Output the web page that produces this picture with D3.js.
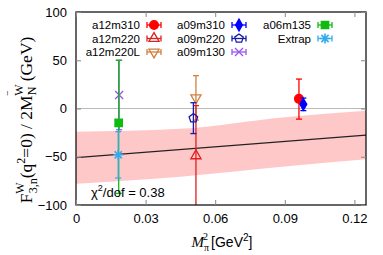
<!DOCTYPE html>
<html>
<head>
<meta charset="utf-8">
<script src="https://cdn.jsdelivr.net/npm/d3@7"></script>
<style>
  body { margin: 0; background: #fff; }
</style>
</head>
<body>
<svg id="chart" width="383" height="255" font-family="Liberation Sans, Arial, sans-serif"></svg>
<script>
// data
const ensembles = ["a12m310", "a12m220", "a12m220L", "a09m310", "a09m220", "a09m130", "a06m135", "Extrap"];
const mpiSq = [0.0961, 0.0517, 0.0517, 0.098, 0.0506, 0.0186, 0.0184, 0.0182];
const values = [10, -49, 11, 4.3, -10, 14, -15, -48];
const errLow = [21, 55, 23, 6.5, 16, 36, 73, 24];
const errHigh = [20.5, 52, 23, 6.5, 16, 36, 65, 24];
const colors = ["#ff0000", "#dd2020", "#d08040", "#0000ff", "#1a1aaa", "#9955ee", "#10bb10", "#33aaee"];
const shapes = ["circle", "triangleOpen", "triangleDownOpen", "diamond", "pentagonOpen", "cross", "square", "asterisk"];

// fit band
const bandX = [0, 0.045, 0.09, 0.125];
const bandLow = [-78, -70.6, -60, -52.6];
const bandHigh = [-24, -21, -9, -2.3];
const fitX = [0, 0.125];
const fitY = [-51, -27.5];

const xTicks = [0, 0.03, 0.06, 0.09, 0.12];
const yTicks = [-100, -50, 0, 50, 100];

const margin = { top: 12, right: 17, bottom: 50, left: 76 };
const W = 383, H = 255;
const PW = W - margin.left - margin.right;
const PH = H - margin.top - margin.bottom;
const SERIF = "Liberation Serif, 'Times New Roman', serif";

const svg = d3.select("#chart");
const g = svg.append("g").attr("transform", `translate(${margin.left},${margin.top})`);

const x = d3.scaleLinear().domain([0, 0.125]).range([0, PW]);
const y = d3.scaleLinear().domain([-100, 100]).range([PH, 0]);

// clip
svg.append("defs").append("clipPath").attr("id", "clip")
  .append("rect").attr("width", PW).attr("height", PH);
const plot = g.append("g").attr("clip-path", "url(#clip)");

// zero line
plot.append("line")
  .attr("x1", 0).attr("x2", PW).attr("y1", y(0)).attr("y2", y(0))
  .attr("stroke", "#bbbbbb").attr("stroke-width", 1.2);

// band
const area = d3.area()
  .x((d, i) => x(bandX[i]))
  .y0((d, i) => y(bandLow[i]))
  .y1((d, i) => y(bandHigh[i]))
  .curve(d3.curveMonotoneX);
plot.append("path").datum(bandX).attr("d", area).attr("fill", "#ffc8c8");

// fit line
plot.append("line")
  .attr("x1", x(fitX[0])).attr("x2", x(fitX[1]))
  .attr("y1", y(fitY[0])).attr("y2", y(fitY[1]))
  .attr("stroke", "#222").attr("stroke-width", 1.2);

// symbol paths
const symbolPath = (shape) => {
  switch (shape) {
    case "circle": return d3.symbol(d3.symbolCircle, 60)();
    case "triangleOpen": return d3.symbol(d3.symbolTriangle, 45)();
    case "triangleDownOpen": return d3.symbol(d3.symbolTriangle, 45)();
    case "diamond": return d3.symbol(d3.symbolDiamond, 40)();
    case "square": return d3.symbol(d3.symbolSquare, 55)();
    case "cross": return "M-4,-4L4,4M-4,4L4,-4";
    case "asterisk": return "M-5,0L5,0M0,-5L0,5M-3.6,-3.6L3.6,3.6M-3.6,3.6L3.6,-3.6";
    case "pentagonOpen": {
      const r = 4.5;
      const pts = d3.range(5).map(k => {
        const a = -Math.PI / 2 + k * 2 * Math.PI / 5;
        return [r * Math.cos(a), r * Math.sin(a)];
      });
      return "M" + pts.map(p => p.join(",")).join("L") + "Z";
    }
  }
};
const drawSymbol = (sel, i, cx, cy) => {
  const s = shapes[i];
  const open = s.endsWith("Open") || s === "cross" || s === "asterisk";
  sel.append("path")
    .attr("d", symbolPath(s))
    .attr("transform", `translate(${cx},${cy})` + (s === "triangleDownOpen" ? " rotate(180)" : ""))
    .attr("fill", open ? "none" : colors[i])
    .attr("stroke", colors[i])
    .attr("stroke-width", s === "asterisk" ? 1.6 : 1.3);
};

// data points with error bars (gnuplot draw order)
const order = [0, 2, 1, 3, 4, 5, 6, 7];
order.forEach(i => {
  const cx = x(mpiSq[i]);
  const yt = y(values[i] + errHigh[i]);
  const yb = y(values[i] - errLow[i]);
  const eb = plot.append("g").attr("stroke", colors[i]).attr("stroke-width", 1.3);
  eb.append("line").attr("x1", cx).attr("x2", cx).attr("y1", yt).attr("y2", yb);
  eb.append("line").attr("x1", cx - 3).attr("x2", cx + 3).attr("y1", yt).attr("y2", yt);
  eb.append("line").attr("x1", cx - 3).attr("x2", cx + 3).attr("y1", yb).attr("y2", yb);
  drawSymbol(plot, i, cx, y(values[i]));
});

// axes: inward mirrored ticks
const frame = g.append("g");
frame.append("rect").attr("width", PW).attr("height", PH)
  .attr("fill", "none").attr("stroke", "#000").attr("stroke-width", 1.2);

const xAxis = g.append("g").attr("transform", `translate(0,${PH})`)
  .call(d3.axisBottom(x).tickValues(xTicks).tickSizeInner(-5).tickSizeOuter(0)
    .tickFormat(d => d === 0 ? "0" : d3.format(".2f")(d)).tickPadding(9));
const xAxisTop = g.append("g")
  .call(d3.axisTop(x).tickValues(xTicks).tickSizeInner(-5).tickSizeOuter(0).tickFormat(""));
const yAxis = g.append("g")
  .call(d3.axisLeft(y).tickValues(yTicks).tickSizeInner(-5).tickSizeOuter(0).tickPadding(9));
const yAxisRight = g.append("g").attr("transform", `translate(${PW},0)`)
  .call(d3.axisRight(y).tickValues(yTicks).tickSizeInner(-5).tickSizeOuter(0).tickFormat(""));
[xAxis, xAxisTop, yAxis, yAxisRight].forEach(a => {
  a.select(".domain").remove();
  a.selectAll("line").attr("stroke", "#888");
  a.selectAll("text").attr("font-size", 13).attr("fill", "#000")
    .attr("font-family", "Liberation Sans, Arial, sans-serif");
});

// legend
const legendCols = [[0, 1, 2], [3, 4, 5], [6, 7]];
const colTextX = [140, 225, 311];
const rowY = [25, 38.5, 52];
legendCols.forEach((col, c) => {
  col.forEach((i, r) => {
    const ty = rowY[r];
    svg.append("text").attr("x", colTextX[c]).attr("y", ty).attr("dy", "0.35em")
      .attr("text-anchor", "end").attr("font-size", 11.5).text(ensembles[i]);
    const sx = colTextX[c] + 14;
    const lg = svg.append("g").attr("stroke", colors[i]).attr("stroke-width", 1.3);
    lg.append("line").attr("x1", sx - 7).attr("x2", sx + 7).attr("y1", ty).attr("y2", ty);
    lg.append("line").attr("x1", sx - 7).attr("x2", sx - 7).attr("y1", ty - 3).attr("y2", ty + 3);
    lg.append("line").attr("x1", sx + 7).attr("x2", sx + 7).attr("y1", ty - 3).attr("y2", ty + 3);
    drawSymbol(svg, i, sx, ty);
  });
});

// chi^2 annotation
const chi = svg.append("text").attr("x", 91).attr("y", 197).attr("font-size", 13);
chi.append("tspan").text("χ");
chi.append("tspan").attr("font-size", 9).attr("dy", -6).text("2");
chi.append("tspan").attr("dy", 6).text("/dof = 0.38");

// x label
const xl = svg.append("text").attr("x", 222).attr("y", 247).attr("text-anchor", "middle").attr("font-size", 14);
xl.append("tspan").attr("font-family", SERIF).attr("font-style", "italic").attr("font-size", 15).text("M");
xl.append("tspan").attr("font-family", SERIF).attr("font-size", 10).attr("dy", 4).text("π");
xl.append("tspan").attr("font-family", SERIF).attr("font-size", 10).attr("dx", -6).attr("dy", -11).text("2");
xl.append("tspan").attr("dy", 7).attr("dx", 3).text("[GeV");
xl.append("tspan").attr("font-size", 10).attr("dy", -6).text("2");
xl.append("tspan").attr("dy", 6).text("]");

// y label (rotated, serif)
const yl = svg.append("text").attr("transform", "translate(32,120) rotate(-90)")
  .attr("text-anchor", "middle").attr("font-size", 17.5)
  .attr("font-family", SERIF);
yl.append("tspan").text("F");
yl.append("tspan").attr("font-size", 12).attr("dy", -8).text("W");
yl.append("tspan").attr("font-size", 12).attr("dx", -11).attr("dy", 13).text("3,n");
yl.append("tspan").attr("dy", -5).text("(q");
yl.append("tspan").attr("font-size", 12).attr("dy", -7).text("2");
yl.append("tspan").attr("dy", 7).text("=0) / 2M");
yl.append("tspan").attr("font-size", 12).attr("dy", 4).text("N");
yl.append("tspan").attr("font-size", 12).attr("dx", -9).attr("dy", -13).text("W");
yl.append("tspan").attr("font-size", 12).attr("dx", -11).attr("dy", -6).text("‾");
yl.append("tspan").attr("dy", 15).attr("dx", 10).text("(GeV)");
</script>
</body>
</html>
